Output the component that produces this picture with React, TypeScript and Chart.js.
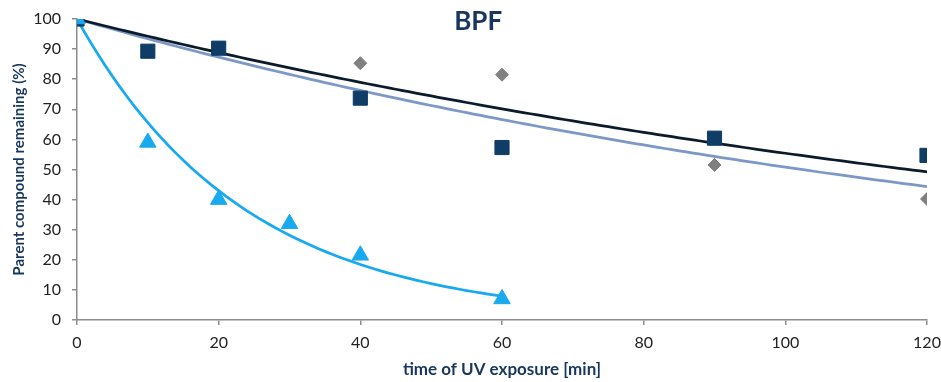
import React, { useEffect, useRef } from "react";
import { Chart, registerables } from "chart.js";

Chart.register(...registerables);

// ---- data ----
const chartTitle = "BPF";
const xAxisTitle = "time of UV exposure [min]";
const yAxisTitle = "Parent compound remaining (%)";

const triangleTimes = [0, 10, 20, 30, 40, 60];
const triangleValues = [100, 59, 40, 32, 21.5, 7];

const squareTimes = [0, 10, 20, 40, 60, 90, 120];
const squareValues = [100, 89.3, 90.3, 73.7, 57.3, 60.4, 54.7];

const diamondTimes = [0, 40, 60, 90, 120];
const diamondValues = [100, 85.3, 81.5, 51.5, 40.2];

const xMin = 0;
const xMax = 120;
const xStep = 20;
const yMin = 0;
const yMax = 100;
const yStep = 10;

// ---- colours ----
const navy = "#17375E";
const triangleColor = "#18A9F0";
const squareColor = "#0F3D66";
const diamondColor = "#808080";
const squareTrendColor = "#0B1B2C";
const diamondTrendColor = "#7D98C6";
const axisColor = "#8C8C8C";

const FONT = "Lato, 'Open Sans', 'DejaVu Sans', sans-serif";

// Exponential trend line with intercept fixed at 100 (least squares on ln y)
function expTrend(xs: number[], ys: number[]) {
  let sxy = 0;
  let sxx = 0;
  xs.forEach((x, i) => {
    sxy += x * Math.log(ys[i] / 100);
    sxx += x * x;
  });
  const b = sxy / sxx;
  const maxX = Math.max(...xs);
  const pts: { x: number; y: number }[] = [];
  for (let x = 0; x <= maxX; x += 1) pts.push({ x, y: 100 * Math.exp(b * x) });
  return pts;
}

const toPoints = (xs: number[], ys: number[]) => xs.map((x, i) => ({ x, y: ys[i] }));

const titlePlugin = {
  id: "overlayTitle",
  afterDatasetsDraw(chart: any) {
    const { ctx, chartArea } = chart;
    ctx.save();
    ctx.font = `bold 26px ${FONT}`;
    ctx.fillStyle = navy;
    ctx.textAlign = "center";
    ctx.textBaseline = "middle";
    ctx.fillText(chartTitle, chartArea.left + (chartArea.right - chartArea.left) * 0.472, chartArea.top + 3);
    ctx.restore();
  },
};

export default function App() {
  const canvasRef = useRef<HTMLCanvasElement | null>(null);

  useEffect(() => {
    if (!canvasRef.current) return;
    const chart = new Chart(canvasRef.current, {
      type: "scatter",
      data: {
        datasets: [
          {
            label: "triangles",
            data: toPoints(triangleTimes, triangleValues),
            pointStyle: "triangle",
            pointRadius: 9.5,
            backgroundColor: triangleColor,
            borderColor: triangleColor,
            borderWidth: 1,
          },
          {
            label: "squares",
            data: toPoints(squareTimes, squareValues),
            pointStyle: "rect",
            pointRadius: 10,
            backgroundColor: squareColor,
            borderColor: squareColor,
            borderWidth: 1,
          },
          {
            label: "diamonds",
            data: toPoints(diamondTimes, diamondValues),
            pointStyle: "rectRot",
            pointRadius: 6.5,
            backgroundColor: diamondColor,
            borderColor: diamondColor,
            borderWidth: 1,
          },
          {
            label: "triangle trend",
            data: expTrend(triangleTimes, triangleValues),
            showLine: true,
            pointRadius: 0,
            borderColor: triangleColor,
            borderWidth: 2.75,
          },
          {
            label: "square trend",
            data: expTrend(squareTimes, squareValues),
            showLine: true,
            pointRadius: 0,
            borderColor: squareTrendColor,
            borderWidth: 2.75,
          },
          {
            label: "diamond trend",
            data: expTrend(diamondTimes, diamondValues),
            showLine: true,
            pointRadius: 0,
            borderColor: diamondTrendColor,
            borderWidth: 2.75,
          },
        ],
      },
      options: {
        animation: false,
        responsive: false,
        layout: { padding: { top: 19, right: 14, left: 0, bottom: 0 } },
        plugins: {
          legend: { display: false },
          tooltip: { enabled: false },
          title: { display: false },
        },
        scales: {
          x: {
            type: "linear",
            min: xMin,
            max: xMax,
            afterFit: (s: any) => {
              s.height = 62;
              s.paddingLeft = 0;
              s.paddingRight = 0;
            },
            ticks: {
              stepSize: xStep,
              color: "#222",
              font: { family: FONT, size: 16 },
              padding: 8,
            },
            grid: {
              display: true,
              drawOnChartArea: false,
              drawTicks: true,
              tickLength: 5,
              color: axisColor,
              lineWidth: 1.5,
            },
            border: { display: true, color: axisColor, width: 1.5 },
            title: {
              display: true,
              text: xAxisTitle,
              color: navy,
              font: { family: FONT, size: 17, weight: "bold" },
              padding: { top: 0, bottom: 2 },
            },
          },
          y: {
            type: "linear",
            min: yMin,
            max: yMax,
            afterFit: (s: any) => {
              s.width = 77;
              s.paddingTop = 0;
              s.paddingBottom = 0;
            },
            ticks: {
              stepSize: yStep,
              color: "#222",
              font: { family: FONT, size: 16 },
              padding: 11,
            },
            grid: {
              display: true,
              drawOnChartArea: false,
              drawTicks: true,
              tickLength: 5,
              color: axisColor,
              lineWidth: 1.5,
            },
            border: { display: true, color: axisColor, width: 1.5 },
            title: {
              display: true,
              text: yAxisTitle,
              color: navy,
              font: { family: FONT, size: 15, weight: "bold" },
              padding: { top: 10, bottom: 0 },
            },
          },
        },
      },
      plugins: [titlePlugin],
    } as any);
    return () => chart.destroy();
  }, []);

  return (
    <div style={{ position: "absolute", left: 0, top: 0, width: 941, height: 382, background: "#fff" }}>
      <canvas ref={canvasRef} width={941} height={382} style={{ width: 941, height: 382 }} />
    </div>
  );
}
